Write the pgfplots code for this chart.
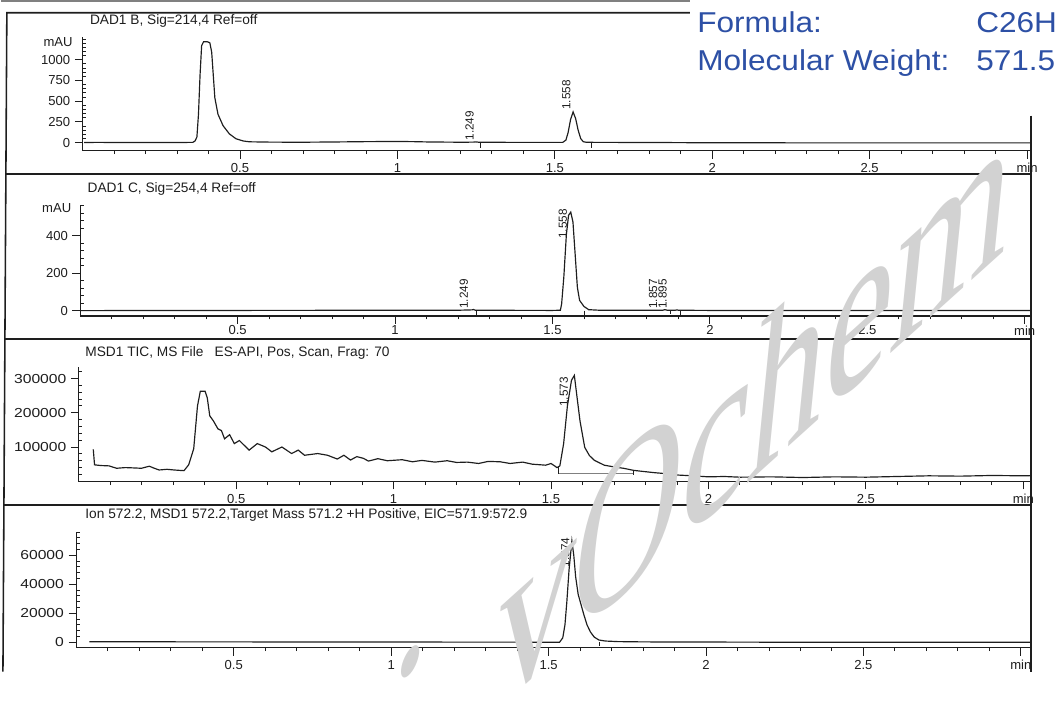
\documentclass[border=0pt]{standalone}
\usepackage{fontspec}
\setmainfont{Liberation Sans}
\newfontfamily\wmfont{Liberation Serif}
\usepackage{graphicx}
\usepackage{pgfplots}
\pgfplotsset{compat=1.18}
\definecolor{bluetxt}{RGB}{45,80,165}
\definecolor{wm}{RGB}{210,210,210}
\definecolor{ink}{RGB}{30,30,30}

\tikzset{
  rt/.style={rotate=90, anchor=south west, inner sep=0.6pt, text=ink, font=\fontsize{9}{10}\selectfont},
}
\newcommand{\wl}[1]{\scalebox{1.2}[1]{#1}}
\pgfplotsset{
  chrom/.style={
    scale only axis,
    axis lines*=left,
    xmin=0,
    tick align=outside,
    major tick length=6pt,
    minor tick length=2.6pt,
    xtick={0.5,1,1.5,2,2.5,3},
    xticklabels={0.5,1,1.5,2,2.5,min},
    minor xtick={0.1,0.2,0.3,0.4,0.6,0.7,0.8,0.9,1.1,1.2,1.3,1.4,1.6,1.7,1.8,1.9,2.1,2.2,2.3,2.4,2.6,2.7,2.8,2.9},
    tick style={ink, line width=0.7pt},
    every minor y tick/.append style={xshift=2.6pt},
    axis line style={ink, line width=1pt},
    ticklabel style={font=\fontsize{10}{12}\selectfont, text=ink},
    scaled y ticks=false,
    clip=false,
    anchor=south west,
  },
  trace/.style={ink, line width=0.9pt, mark=none},
}

\begin{document}
\begin{tikzpicture}
\begin{scope}[x=0.75pt,y=-0.75pt]
  \useasboundingbox (0,0) rectangle (1057,686);
  \coordinate (o1) at (83.4,154);
  \coordinate (o2) at (81,322.7);
  \coordinate (o3) at (79.5,492);
  \coordinate (o4) at (77,661.7);
  \coordinate (wmo) at (500,730);
  \coordinate (wmd) at (418,676);
\end{scope}

% ---------------- Panel 1 ----------------
\begin{axis}[chrom, at={(o1)}, width=726.45pt, height=86.775pt,
  xmax=3.0118, ymin=-98, ymax=1268,
  ytick={0,250,500,750,1000}, yticklabels={0,250,500,750,1000},
  minor ytick={50,100,150,200,300,350,400,450,550,600,650,700,800,850,900,950,1050,1100,1150,1200,1250}]
\addplot[trace] coordinates {
(0.005,2)(0.05,3)(0.1,2)(0.2,2)(0.3,2)(0.35,3)(0.357,20)(0.363,67)(0.368,342)(0.373,815)
(0.378,1169)(0.384,1216)(0.395,1218)(0.404,1205)(0.41,1090)(0.415,815)(0.42,540)(0.43,342)
(0.446,205)(0.466,106)(0.487,47)(0.51,20)(0.53,10)(0.6,6)(0.7,5)(0.8,8)(0.9,12)(1.0,14)
(1.05,12)(1.1,8)(1.2,5)(1.24,6)(1.249,9)(1.258,5)(1.3,4)(1.4,3)(1.5,3)(1.525,3)(1.535,30)
(1.542,120)(1.55,280)(1.558,370)(1.566,290)(1.574,150)(1.582,50)(1.59,12)(1.6,4)(1.65,3)
(1.8,2)(2.0,-2)(2.5,-3)(3.0,-3)(3.011,-3)};
\addplot[ink, line width=0.6pt, mark=none] coordinates {(1.262,0)(1.262,-60)};
\addplot[ink, line width=0.6pt, mark=none] coordinates {(1.615,0)(1.615,-60)};
\node[rt] at (axis cs:1.553,385) {1.558};
\node[rt] at (axis cs:1.246,15) {1.249};
\node[anchor=east, inner sep=0, text=ink, font=\fontsize{10}{12}\selectfont] at (axis cs:-0.031,1212) {mAU};
\end{axis}

% ---------------- Panel 2 ----------------
\begin{axis}[chrom, at={(o2)}, width=728.25pt, height=84.525pt,
  xmax=3.0193, ymin=-28.3, ymax=562,
  ytick={0,200,400}, yticklabels={0,200,400},
  minor ytick={40,80,120,160,240,280,320,360,440,480,520,560},
  xticklabel style={yshift=2pt}]
\addplot[trace] coordinates {
(0.0,0)(0.5,1)(1.0,2)(1.2,2)(1.245,4)(1.249,6)(1.255,2)(1.5,1)(1.525,2)(1.529,36)(1.536,180)
(1.544,405)(1.551,510)(1.558,527)(1.565,474)(1.572,300)(1.579,125)(1.586,55)(1.6,22)(1.615,5)
(1.65,2)(1.85,2)(1.857,5)(1.865,2)(1.89,2)(1.895,4)(1.9,2)(2.0,1)(3.018,1)};
\addplot[ink, line width=0.6pt, mark=none] coordinates {(1.257,0)(1.257,-25)};
\addplot[ink, line width=0.6pt, mark=none] coordinates {(1.60,0)(1.60,-25)};
\addplot[ink, line width=0.6pt, mark=none] coordinates {(1.875,0)(1.875,-20)};
\addplot[ink, line width=0.6pt, mark=none] coordinates {(1.905,0)(1.905,-25)};
\node[rt] at (axis cs:1.549,379) {1.558};
\node[rt] at (axis cs:1.235,5) {1.249};
\node[rt] at (axis cs:1.836,5) {1.857};
\node[rt] at (axis cs:1.866,5) {1.895};
\node[anchor=east, inner sep=0, text=ink, font=\fontsize{10}{12}\selectfont] at (axis cs:-0.028,547) {mAU};
\end{axis}

% ---------------- Panel 3 ----------------
\begin{axis}[chrom, at={(o3)}, width=729.375pt, height=87.75pt,
  xmax=3.0239, ymin=-1000, ymax=333286,
  ytick={100000,200000,300000}, yticklabels={\wl{100000},\wl{200000},\wl{300000}},
  minor ytick={20000,40000,60000,80000,120000,140000,160000,180000,220000,240000,260000,280000,320000}]
\addplot[trace] coordinates {
(0.046,93000)(0.050,48000)(0.07,46000)(0.096,45000)(0.12,38000)(0.148,40000)(0.175,39000)
(0.199,38000)(0.224,44000)(0.24,38000)(0.255,33000)(0.28,35000)(0.303,33000)(0.334,31000)
(0.349,48000)(0.365,95000)(0.377,220000)(0.386,263000)(0.401,263000)(0.408,244000)
(0.416,191000)(0.427,177000)(0.442,153000)(0.453,148000)(0.463,124000)(0.479,136000)
(0.494,110000)(0.510,119000)(0.541,91000)(0.567,110000)(0.593,100000)(0.613,86000)
(0.645,100000)(0.676,81000)(0.697,91000)(0.717,76000)(0.759,81000)(0.790,76000)(0.821,65000)
(0.842,76000)(0.863,62000)(0.883,72000)(0.904,67000)(0.920,59000)(0.95,66000)(0.98,60000)
(1.027,63000)(1.06,57000)(1.09,61000)(1.131,56000)(1.17,60000)(1.20,55000)(1.234,56000)
(1.27,52000)(1.30,58000)(1.338,57000)(1.37,52000)(1.41,56000)(1.44,50000)(1.483,47000)
(1.50,52000)(1.519,40000)(1.528,45000)(1.540,110000)(1.552,220000)(1.565,295000)(1.574,309000)
(1.582,250000)(1.592,176000)(1.607,99000)(1.622,75000)(1.638,61000)(1.669,47000)(1.70,42000)
(1.73,38000)(1.762,32000)(1.78,30000)(1.80,28000)(1.83,25000)(1.856,23000)(1.88,20000)
(1.907,18000)(1.95,16000)(2.00,13000)(2.05,14000)(2.10,12000)(2.2,13000)(2.3,11000)(2.4,13000)
(2.5,12000)(2.6,14000)(2.7,16000)(2.8,15000)(2.9,17000)(3.0,16000)(3.023,16500)};
\addplot[gray, line width=0.8pt, mark=none] coordinates {(1.524,22000)(1.762,22000)};
\addplot[ink, line width=0.6pt, mark=none] coordinates {(1.524,22000)(1.524,45000)};
\addplot[ink, line width=0.6pt, mark=none] coordinates {(1.762,32000)(1.762,17000)};
\node[rt] at (axis cs:1.557,215000) {1.573};
\end{axis}

% ---------------- Panel 4 ----------------
\begin{axis}[chrom, at={(o4)}, width=731.25pt, height=89.025pt,
  xmax=3.0317, ymin=-3850, ymax=76400,
  ytick={0,20000,40000,60000}, yticklabels={\wl{0},\wl{20000},\wl{40000},\wl{60000}},
  minor ytick={4000,8000,12000,16000,24000,28000,32000,36000,44000,48000,52000,56000,64000,68000,72000,76000}]
\addplot[trace] coordinates {
(0.041,300)(0.5,200)(1.0,100)(1.5,0)(1.535,0)(1.545,3000)(1.552,12000)(1.558,28000)(1.565,50000)
(1.574,70000)(1.580,60000)(1.586,45000)(1.594,33000)(1.603,26000)(1.612,19000)(1.622,12000)
(1.633,7000)(1.645,3500)(1.66,1500)(1.68,800)(1.72,400)(1.8,200)(2.2,0)(3.03,0)};
\addplot[ink, line width=0.6pt, mark=none] coordinates {(1.66,0)(1.66,-2500)};
\node[rt] at (axis cs:1.570,51000) {1.574};
\end{axis}

% ---------------- Frame, titles ----------------
\begin{scope}[x=0.75pt,y=-0.75pt]
  \draw[gray, line width=1.5pt] (0,1.5) -- (705,1.5);
  \draw[ink, line width=1.2pt] (705,13) -- (6,13) -- (2,686);
  \draw[ink, line width=1.2pt] (1052,118) -- (1052,686);
  \draw[ink, line width=1.2pt] (5.5,178) -- (1052,178);
  \draw[ink, line width=1.2pt] (4.5,346.5) -- (1052,346.5);
  \draw[ink, line width=1.2pt] (3.5,516) -- (1052,516);

  \begin{scope}[every node/.style={anchor=base west, inner sep=0, text=ink, font=\fontsize{10.5}{12}\selectfont}]
    \node at (90.7,25) {DAD1 B, Sig=214,4 Ref=off};
    \node at (88.3,197) {DAD1 C, Sig=254,4 Ref=off};
    \node at (86,364) {MSD1 TIC, MS File};
    \node at (218,364) {ES-API, Pos, Scan, Frag: 70};
    \node at (86,530) {Ion 572.2, MSD1 572.2,Target Mass 571.2 +H Positive, EIC=571.9:572.9};
  \end{scope}
\end{scope}

% ---------------- watermark (skewed text) ----------------
\begin{scope}[shift={(wmo)}, cm={1.1655,1.05,0.18,1.8,(0,0)}]
  \node[transform shape, anchor=base west, inner sep=0, text=wm, font=\wmfont\fontsize{100}{110}\selectfont] at (0,0) {vOchem};
\end{scope}
\begin{scope}[shift={(wmd)}, cm={1.1655,1.05,0.18,1.8,(0,0)}]
  \node[transform shape, inner sep=0, text=wm, font=\wmfont\fontsize{100}{110}\selectfont] at (0,0) {.};
\end{scope}

% ---------------- blue overlay text ----------------
\begin{scope}[x=0.75pt,y=-0.75pt]
  \fill[white] (704,0) rectangle (1057,117);
  \begin{scope}[every node/.style={anchor=base west, inner sep=0, text=bluetxt, font=\fontsize{22}{26}\selectfont}]
    \node at (711,33.3) {\scalebox{1.1}[1]{Formula:}};
    \node at (996,33.3) {\scalebox{1.1}[1]{C26H}};
    \node at (711,71.7) {\scalebox{1.1}[1]{Molecular Weight:}};
    \node at (996,71.7) {\scalebox{1.1}[1]{571.5}};
  \end{scope}
\end{scope}
\end{tikzpicture}
\end{document}
